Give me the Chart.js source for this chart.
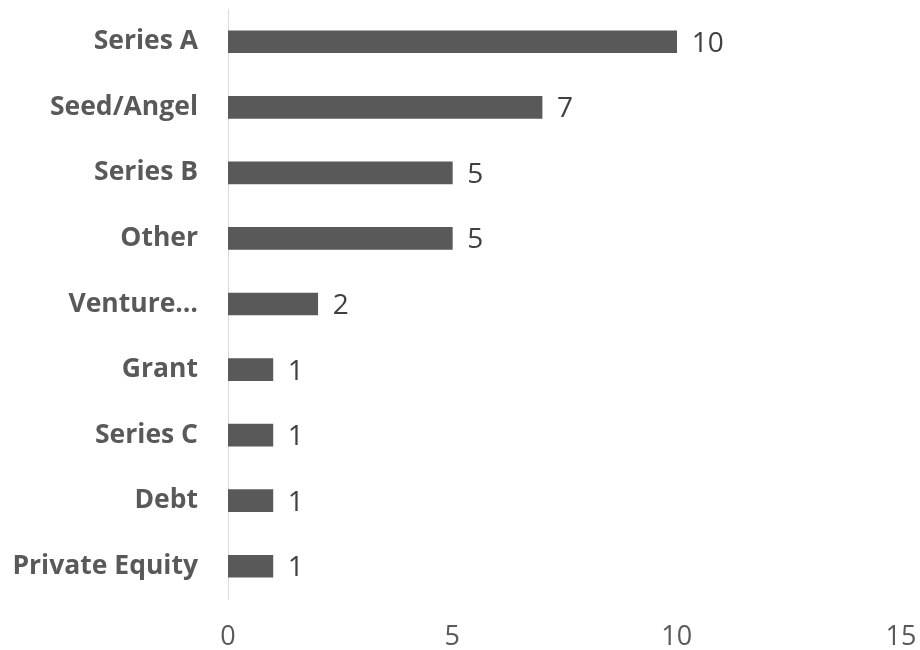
<!DOCTYPE html>
<html>
<head>
<meta charset="utf-8">
<script src="https://cdn.jsdelivr.net/npm/chart.js@4"></script>
<style>
  html, body { margin: 0; padding: 0; background: #ffffff; }
  #wrap { width: 920px; height: 650px; }
</style>
</head>
<body>
<div id="wrap"><canvas id="fundingChart" width="920" height="650"></canvas></div>
<script>
// funding rounds, largest first
var roundNames = ['Series A', 'Seed/Angel', 'Series B', 'Other', 'Venture\u2026', 'Grant', 'Series C', 'Debt', 'Private Equity'];
var roundCounts = [10, 7, 5, 5, 2, 1, 1, 1, 1];
var xTicks = [0, 5, 10, 15];

// writes the count just past the end of each bar
var valueLabels = {
    id: 'valueLabels',
    afterDatasetsDraw: function(chart) {
        var ctx = chart.ctx;
        var meta = chart.getDatasetMeta(0);
        ctx.save();
        ctx.font = '28px "Open Sans"';
        ctx.fillStyle = '#404040';
        ctx.textAlign = 'left';
        ctx.textBaseline = 'middle';
        meta.data.forEach(function(bar, i) {
            ctx.fillText(String(roundCounts[i]), bar.x + 15, bar.y + 2);
        });
        ctx.restore();
    }
};

var ctx = document.getElementById('fundingChart').getContext('2d');
new Chart(ctx, {
    type: 'bar',
    data: {
        labels: roundNames,
        datasets: [{
            data: roundCounts,
            backgroundColor: '#595959',
            barThickness: 22
        }]
    },
    options: {
        indexAxis: 'y',
        responsive: false,
        animation: false,
        layout: { padding: { top: 9, right: 19, left: 0, bottom: 0 } },
        plugins: {
            legend: { display: false },
            tooltip: { enabled: false }
        },
        scales: {
            x: {
                min: 0,
                max: 15,
                afterBuildTicks: function(scale) {
                    scale.ticks = xTicks.map(function(v) { return { value: v }; });
                },
                grid: { display: false, drawTicks: false },
                border: { display: false },
                ticks: {
                    color: '#595959',
                    font: { family: 'Open Sans', size: 27 },
                    padding: 22,
                    maxRotation: 0
                },
                afterFit: function(scale) {
                    scale.height = 51;
                    // keep the tick labels from shrinking the plot sideways
                    scale.paddingLeft = 0;
                    scale.paddingRight = 0;
                }
            },
            y: {
                grid: { display: false, drawTicks: false },
                border: { display: true, color: '#d9d9d9', width: 1 },
                ticks: {
                    color: '#595959',
                    font: { family: 'Open Sans', size: 26.5, weight: 'bold' },
                    padding: 30
                },
                afterFit: function(scale) {
                    scale.width = 228;
                    scale.paddingTop = 0;
                    scale.paddingBottom = 0;
                }
            }
        }
    },
    plugins: [valueLabels]
});
</script>
</body>
</html>
